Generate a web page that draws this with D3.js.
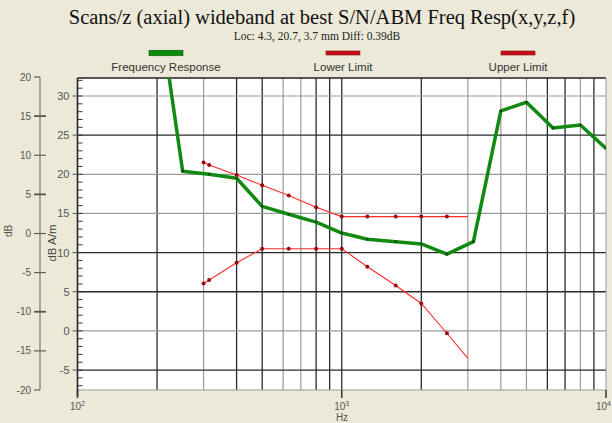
<!DOCTYPE html>
<html><head><meta charset="utf-8">
<script src="https://cdn.jsdelivr.net/npm/d3@7/dist/d3.min.js"></script>
<style>html,body{margin:0;padding:0;background:#ece9d8;}svg{display:block;}</style>
</head><body>
<svg id="c" width="612" height="423"></svg>
<script>
// ---- data ----
const respFreq  = [200, 250, 315, 400, 500, 630, 800, 1000, 1250, 1600, 2000, 2500, 3150, 4000, 5000, 6300, 8000, 10000];
const respValue = [43, 20.4, 20.0, 19.5, 15.9, 14.9, 13.9, 12.5, 11.7, 11.4, 11.1, 9.8, 11.4, 28.1, 29.2, 25.9, 26.3, 23.3];
const upperFreq  = [300, 315, 400, 500, 630, 800, 1000, 1250, 1600, 2000, 2500, 3000];
const upperValue = [21.5, 21.2, 19.9, 18.6, 17.3, 15.8, 14.6, 14.6, 14.6, 14.6, 14.6, 14.6];
const lowerFreq  = [300, 315, 400, 500, 630, 800, 1000, 1250, 1600, 2000, 2500, 3000];
const lowerValue = [6.05, 6.5, 8.7, 10.5, 10.5, 10.5, 10.5, 8.2, 5.8, 3.5, -0.3, -3.5];
const innerTicks = [30, 25, 20, 15, 10, 5, 0, -5];
const outerTicks = [20, 15, 10, 5, 0, -5, -10, -15, -20];
const xTickExp = [2, 3, 4];
const vGridDark = [200, 400, 500, 800, 900, 1000, 2000, 6000, 7000, 9000];
const vGridGray = [300, 600, 700, 3000, 4000, 5000, 8000];
const hGridDark = [25, 10, 5, -5];
const hGridGray = [30, 20, 15, 0];
const titleText = "Scans/z (axial) wideband at best S/N/ABM Freq Resp(x,y,z,f)";
const subText = "Loc: 4.3, 20.7, 3.7 mm Diff: 0.39dB";
const legendNames = ["Frequency Response", "Lower Limit", "Upper Limit"];

// ---- layout ----
const L = 77.5, R = 606, T = 78, B = 390;
const svg = d3.select("#c");
const x = d3.scaleLog().domain([100, 10000]).range([L, R]);
const y = d3.scaleLinear().domain([-7.55, 32.3]).range([B, T]);
const y2 = d3.scaleLinear().domain([-20, 20]).range([B, 77]);

svg.append("rect").attr("width", 612).attr("height", 423).attr("fill", "#ece9d8");

// title
svg.append("text").attr("x", 322).attr("y", 24).attr("text-anchor", "middle")
  .attr("font-family", "Liberation Serif, Times New Roman, serif").attr("font-size", 20.5)
  .attr("fill", "#111").text(titleText);
svg.append("text").attr("x", 317).attr("y", 40).attr("text-anchor", "middle")
  .attr("font-family", "Liberation Serif, Times New Roman, serif").attr("font-size", 11.5)
  .attr("fill", "#222").text(subText);

// legend
const legX = [166, 343, 518];
const legCol = ["#0a8a0a", "#c8101a", "#c8101a"];
const legH = [5.5, 4, 4];
legendNames.forEach((n, i) => {
  svg.append("rect").attr("x", legX[i] - 17).attr("y", 53 - legH[i] / 2).attr("width", 34).attr("height", legH[i])
    .attr("fill", legCol[i]).attr("stroke", i === 0 ? "#0b5e0b" : "#8a0a10").attr("stroke-width", 0.6);
  svg.append("text").attr("x", legX[i]).attr("y", 71).attr("text-anchor", "middle")
    .attr("font-family", "Liberation Sans, Arial, sans-serif").attr("font-size", 11.5)
    .attr("fill", "#333").text(n);
});

// plot area
svg.append("rect").attr("x", L).attr("y", T).attr("width", R - L).attr("height", B - T).attr("fill", "#fff");

const grid = svg.append("g");
vGridGray.forEach(f => grid.append("line").attr("x1", x(f)).attr("x2", x(f)).attr("y1", T).attr("y2", B)
  .attr("stroke", "#9a9a9a").attr("stroke-width", 1.2));
vGridDark.forEach(f => grid.append("line").attr("x1", x(f)).attr("x2", x(f)).attr("y1", T).attr("y2", B)
  .attr("stroke", "#2a2a2a").attr("stroke-width", 1.3));
hGridGray.forEach(v => grid.append("line").attr("x1", L).attr("x2", R).attr("y1", y(v)).attr("y2", y(v))
  .attr("stroke", "#9a9a9a").attr("stroke-width", 1.2));
hGridDark.forEach(v => grid.append("line").attr("x1", L).attr("x2", R).attr("y1", y(v)).attr("y2", y(v))
  .attr("stroke", "#2a2a2a").attr("stroke-width", 1.3));
// frame
grid.append("line").attr("x1", L).attr("x2", R).attr("y1", T).attr("y2", T).attr("stroke", "#222").attr("stroke-width", 1.5);
grid.append("line").attr("x1", R).attr("x2", R).attr("y1", T).attr("y2", B).attr("stroke", "#999").attr("stroke-width", 1);
grid.append("line").attr("x1", L).attr("x2", R).attr("y1", B).attr("y2", B).attr("stroke", "#999").attr("stroke-width", 1.2);

// clip
svg.append("clipPath").attr("id", "clip").append("rect").attr("x", L).attr("y", T).attr("width", R - L).attr("height", B - T);
const plot = svg.append("g").attr("clip-path", "url(#clip)");
const line = d3.line().x(d => x(d[0])).y(d => y(d[1]));

const upper = upperFreq.map((f, i) => [f, upperValue[i]]);
const lower = lowerFreq.map((f, i) => [f, lowerValue[i]]);
const resp = respFreq.map((f, i) => [f, respValue[i]]);

[upper, lower].forEach(s => {
  plot.append("path").attr("d", line(s)).attr("fill", "none").attr("stroke", "#ff2a2a").attr("stroke-width", 1.1);
  plot.selectAll(null).data(s.slice(0, -1)).enter().append("circle")
    .attr("cx", d => x(d[0])).attr("cy", d => y(d[1])).attr("r", 2).attr("fill", "#9a0a0a");
});
plot.append("path").attr("d", line(resp)).attr("fill", "none").attr("stroke", "#128a12")
  .attr("stroke-width", 3.5).attr("stroke-linejoin", "round");
plot.selectAll(null).data(resp.slice(1)).enter().append("circle")
  .attr("cx", d => x(d[0])).attr("cy", d => y(d[1])).attr("r", 1.3).attr("fill", "#0a4a0a");

// inner y axis
const ax = svg.append("g");
ax.append("line").attr("x1", L).attr("x2", L).attr("y1", T).attr("y2", B + 6).attr("stroke", "#222").attr("stroke-width", 1.6);
d3.range(-7, 33).forEach(v => ax.append("line").attr("x1", L).attr("x2", L + 5).attr("y1", y(v)).attr("y2", y(v))
  .attr("stroke", "#333").attr("stroke-width", 1));
innerTicks.forEach(v => {
  ax.append("line").attr("x1", L - 5).attr("x2", L).attr("y1", y(v)).attr("y2", y(v)).attr("stroke", "#555").attr("stroke-width", 1);
  ax.append("text").attr("x", L - 8).attr("y", y(v) + 4).attr("text-anchor", "end")
    .attr("font-family", "Liberation Sans, Arial, sans-serif").attr("font-size", 11).attr("fill", "#555").text(v);
});
ax.append("text").attr("transform", "translate(56,243) rotate(-90)").attr("text-anchor", "middle")
  .attr("font-family", "Liberation Sans, Arial, sans-serif").attr("font-size", 11.5).attr("fill", "#444").text("dB A/m");

// outer y axis
const ox = 40;
ax.append("line").attr("x1", ox).attr("x2", ox).attr("y1", y2(20)).attr("y2", y2(-20)).attr("stroke", "#777").attr("stroke-width", 1.2);
outerTicks.forEach((v, i) => {
  const end = (i === 0 || i === outerTicks.length - 1);
  ax.append("line").attr("x1", ox - 6).attr("x2", end ? ox : ox + 6).attr("y1", y2(v)).attr("y2", y2(v))
    .attr("stroke", "#555").attr("stroke-width", (v % 10 === 5 || v === -10) ? 1.8 : 1.1);
  ax.append("text").attr("x", 31).attr("y", y2(v) + 3.5).attr("text-anchor", "end")
    .attr("font-family", "Liberation Sans, Arial, sans-serif").attr("font-size", 10).attr("fill", "#555").text(v);
});
ax.append("text").attr("transform", "translate(12,231) rotate(-90)").attr("text-anchor", "middle")
  .attr("font-family", "Liberation Sans, Arial, sans-serif").attr("font-size", 10).attr("fill", "#555").text("dB");

// x axis
xTickExp.forEach((e, i) => {
  const xp = x(Math.pow(10, e));
  const last = i === xTickExp.length - 1;
  ax.append("line").attr("x1", xp).attr("x2", xp).attr("y1", B).attr("y2", B + 8).attr("stroke", "#333").attr("stroke-width", 1.5);
  const t = ax.append("text").attr("x", last ? 611 : xp).attr("y", 410).attr("text-anchor", last ? "end" : "middle")
    .attr("font-family", "Liberation Sans, Arial, sans-serif").attr("font-size", 10).attr("fill", "#555");
  t.append("tspan").text("10");
  t.append("tspan").attr("dy", -4).attr("font-size", 7).text(e);
});
ax.append("text").attr("x", 342).attr("y", 421).attr("text-anchor", "middle")
  .attr("font-family", "Liberation Sans, Arial, sans-serif").attr("font-size", 10).attr("fill", "#555").text("Hz");
</script>
</body></html>
